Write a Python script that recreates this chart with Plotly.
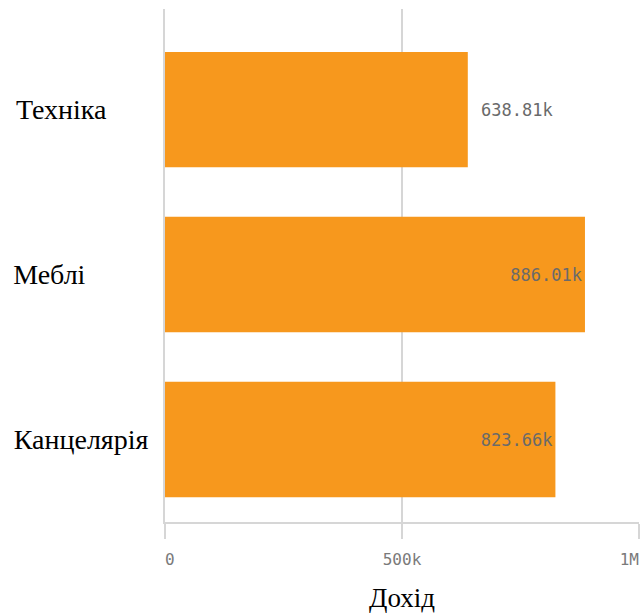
import plotly.graph_objects as go

categories = ["Канцелярія", "Меблі", "Техніка"]
revenue = [823660, 886010, 638810]
label_pos = ["inside", "inside", "outside"]
label_tpl = ["%{x:.5s}", "%{x:.5s}", "\u00a0%{x:.5s}"]
x_tick_vals = [0, 500000, 1000000]
x_tick_text = ["\u00a00", "500k", "1M\u00a0\u00a0"]
y_tick_text = ["Канцелярія", "Меблі" + "\u00a0" * 9, "Техніка" + "\u00a0" * 6]

fig = go.Figure(go.Bar(
    x=revenue, y=categories, orientation="h",
    marker=dict(color="#F7981D", line=dict(width=0)),
    width=0.7,
    texttemplate=label_tpl,
    textposition=label_pos,
    insidetextanchor="end",
    textfont=dict(family="DejaVu Sans Mono", size=17, color="#6a6a6a"),
    cliponaxis=False,
))

fig.update_layout(
    width=640, height=613,
    margin=dict(l=165, r=1, t=9, b=91),
    paper_bgcolor="white", plot_bgcolor="white",
    showlegend=False,
    bargap=0.3,
    xaxis=dict(
        range=[0, 1000000], tickvals=x_tick_vals, ticktext=x_tick_text,
        automargin=False,
        showgrid=True, gridcolor="#d6d6d6", gridwidth=2,
        showline=True, linecolor="#d6d6d6", linewidth=2,
        ticks="outside", ticklen=15, tickcolor="#d6d6d6", tickwidth=2,
        ticklabelstandoff=7, ticklabeloverflow="allow",
        tickfont=dict(family="DejaVu Sans Mono", size=16, color="#7a7a7a"),
        zeroline=False,
        title=dict(text="Дохід", font=dict(family="Liberation Serif", size=27, color="black"), standoff=20),
    ),
    yaxis=dict(
        categoryorder="array", categoryarray=categories,
        tickvals=categories, ticktext=y_tick_text,
        range=[-0.5, 2.61],
        automargin=False,
        showgrid=False, zeroline=False,
        showline=True, linecolor="#d6d6d6", linewidth=2,
        ticks="", ticklabelstandoff=9,
        tickfont=dict(family="Liberation Serif", size=28, color="black"),
    ),
)

fig.write_html("out.html")
